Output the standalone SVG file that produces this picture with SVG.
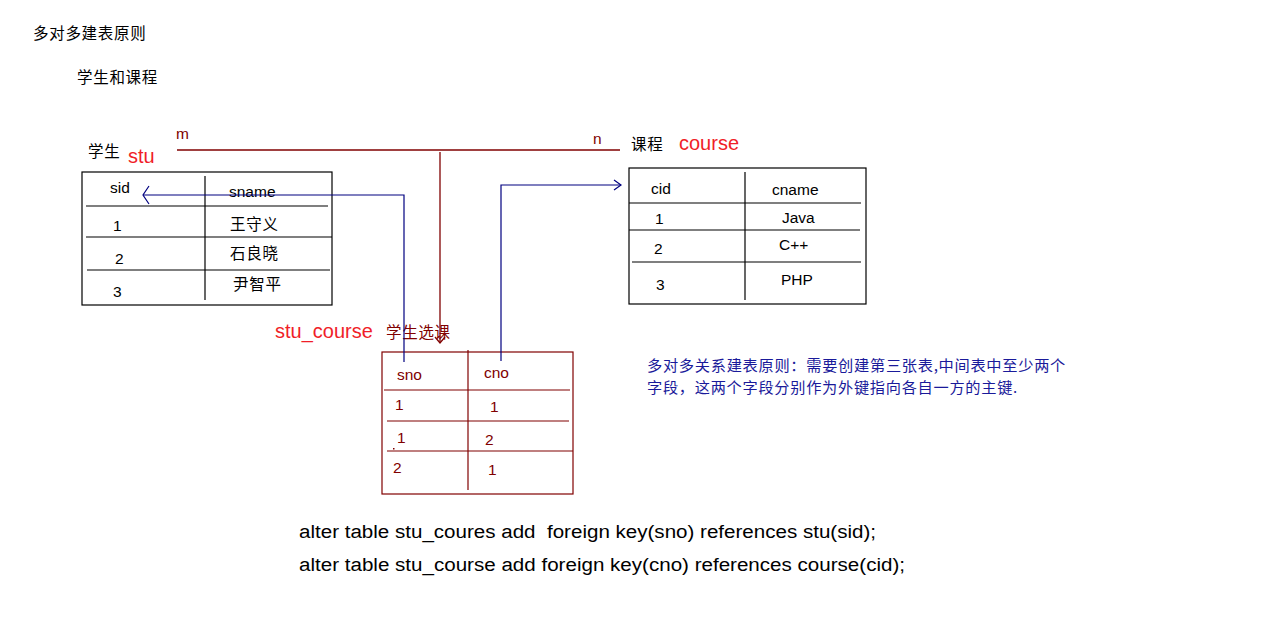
<svg xmlns="http://www.w3.org/2000/svg" width="1288" height="617" viewBox="0 0 1288 617">
<style>
text{font-family:"Liberation Sans","Noto Sans CJK SC",sans-serif;}
.cjk{font-family:"Noto Sans CJK SC","Liberation Sans",sans-serif;font-size:15px;letter-spacing:0.7px;}
.blk{fill:#000;font-size:15.5px;}
.red{fill:#f01e28;font-size:20px;}
.brn{fill:#800000;font-size:15.5px;}
.tb{fill:none;stroke:#000;stroke-width:1.2;}
.tr{fill:none;stroke:#800000;stroke-width:1.2;}
.cb{fill:none;stroke:#000080;stroke-width:1.2;}
.cr{fill:none;stroke:#800000;stroke-width:1.3;}
.note{fill:#1a1a9a;}
.sql{fill:#000;font-size:18px;}
</style>
<rect width="1288" height="617" fill="#fff"/>
<g id="titles">
<text class="blk cjk" x="33" y="39">多对多建表原则</text>
<text class="blk cjk" x="77" y="83">学生和课程</text>
</g>
<g id="stu">
<text class="blk cjk" x="88" y="157">学生</text>
<text class="red" x="128" y="163">stu</text>
<rect class="tb" x="82" y="172" width="250" height="133"/>
<line class="tb" x1="205" y1="176" x2="205" y2="300"/>
<line class="tb" x1="86" y1="206" x2="328" y2="206"/>
<line class="tb" x1="86" y1="237" x2="332" y2="237"/>
<line class="tb" x1="87" y1="270" x2="330" y2="270"/>
<text class="blk" x="110" y="193">sid</text>
<text class="blk" x="229" y="197">sname</text>
<text class="blk" x="113" y="231">1</text>
<text class="blk cjk" x="230" y="230">王守义</text>
<text class="blk" x="115" y="264">2</text>
<text class="blk cjk" x="230" y="259">石良晓</text>
<text class="blk" x="113" y="297">3</text>
<text class="blk cjk" x="233" y="290">尹智平</text>
</g>
<g id="course">
<text class="blk cjk" x="631" y="150">课程</text>
<text class="red" x="679" y="150">course</text>
<rect class="tb" x="629" y="168" width="237" height="136"/>
<line class="tb" x1="745" y1="172" x2="745" y2="300"/>
<line class="tb" x1="629" y1="203" x2="861" y2="203"/>
<line class="tb" x1="629" y1="230" x2="860" y2="230"/>
<line class="tb" x1="632" y1="262" x2="861" y2="262"/>
<text class="blk" x="651" y="194">cid</text>
<text class="blk" x="772" y="195">cname</text>
<text class="blk" x="655" y="224">1</text>
<text class="blk" x="782" y="223">Java</text>
<text class="blk" x="654" y="254">2</text>
<text class="blk" x="779" y="250">C++</text>
<text class="blk" x="656" y="290">3</text>
<text class="blk" x="781" y="285">PHP</text>
</g>
<g id="stu_course">
<text class="red" x="275" y="338">stu_course</text>
<text class="brn cjk" x="386" y="338">学生选课</text>
<rect class="tr" x="382" y="352" width="191" height="142"/>
<line class="tr" x1="468" y1="350" x2="468" y2="490"/>
<line class="tr" x1="384" y1="390" x2="570" y2="390"/>
<line class="tr" x1="387" y1="421" x2="569" y2="421"/>
<line class="tr" x1="387" y1="451" x2="573" y2="451"/>
<text class="brn" x="397" y="380">sno</text>
<text class="brn" x="484" y="378">cno</text>
<text class="brn" x="395" y="410">1</text>
<text class="brn" x="490" y="412">1</text>
<text class="brn" x="397" y="443">1</text>
<text class="brn" x="485" y="445">2</text>
<rect x="393" y="448" width="1.5" height="1.5" fill="#800000"/>
<text class="brn" x="393" y="473">2</text>
<text class="brn" x="488" y="475">1</text>
</g>
<g id="connectors">
<line class="cr" x1="177" y1="150" x2="620" y2="150"/>
<text class="brn" x="176" y="139">m</text>
<text class="brn" x="593" y="144">n</text>
<polyline class="cr" points="440,152 440,343"/>
<polyline class="cr" points="435,337 440,343 445,337"/>
<polyline class="cb" points="404,362 404,195 143,195"/>
<polyline class="cb" points="149,186 143,195 149,204"/>
<polyline class="cb" points="501,361 501,185 621,185"/>
<polyline class="cb" points="614,180 621,185 614,190"/>
</g>
<g id="note">
<text class="note cjk" x="647" y="371" textLength="419" lengthAdjust="spacingAndGlyphs">多对多关系建表原则：需要创建第三张表,中间表中至少两个</text>
<text class="note cjk" x="647" y="393" textLength="371" lengthAdjust="spacingAndGlyphs">字段，这两个字段分别作为外键指向各自一方的主键.</text>
</g>
<g id="sql">
<text class="sql" x="299" y="538" textLength="577" lengthAdjust="spacingAndGlyphs" xml:space="preserve">alter table stu_coures add  foreign key(sno) references stu(sid);</text>
<text class="sql" x="299" y="571" textLength="606" lengthAdjust="spacingAndGlyphs">alter table stu_course add foreign key(cno) references course(cid);</text>
</g>
</svg>
